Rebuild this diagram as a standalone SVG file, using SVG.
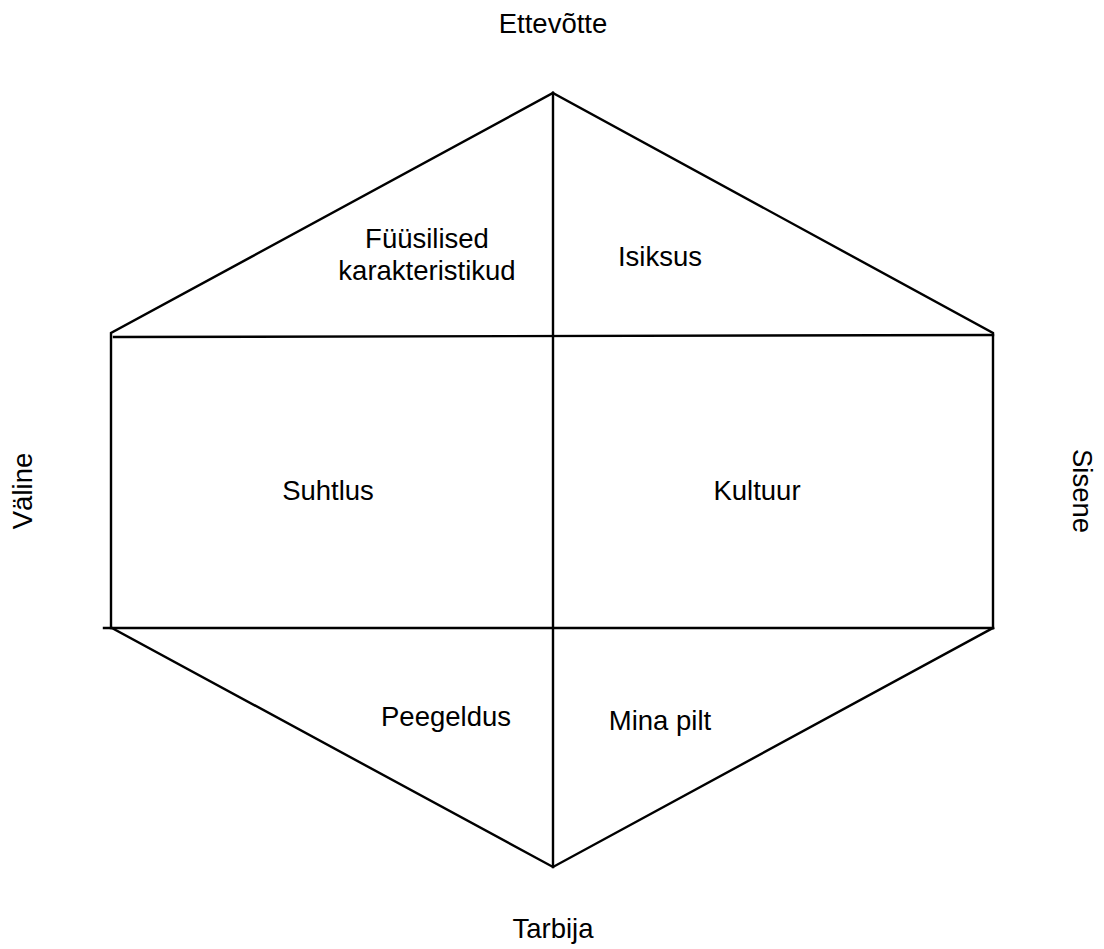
<svg xmlns="http://www.w3.org/2000/svg" width="1104" height="949" viewBox="0 0 1104 949">
<style>
.ln{stroke:#000;stroke-width:2.4;fill:none;stroke-linecap:square}
.t{font-family:"Liberation Sans",Arial,sans-serif;font-size:27.5px;fill:#000;text-anchor:middle}
</style>
<rect width="1104" height="949" fill="#fff"/>
<g id="connectors">
<path class="ln" d="M553,93 L111,333 L111,628"/>
<path class="ln" d="M553,93 L993,333 L993,628"/>
<path class="ln" d="M553,93 L553,867"/>
<path class="ln" d="M114,337 L993,335"/>
<path class="ln" d="M104,628 L993,628"/>
<path class="ln" d="M112,628 L553,867 L993,628"/>
</g>
<g id="ettevotte"><text class="t" x="553" y="33">Ettevõtte</text></g>
<g id="tarbija"><text class="t" x="553" y="938">Tarbija</text></g>
<g id="valine"><text class="t" transform="translate(32,491) rotate(-90)">Väline</text></g>
<g id="sisene"><text class="t" transform="translate(1073,491) rotate(90)">Sisene</text></g>
<g id="fuusilised"><text class="t" x="427" y="248">Füüsilised</text><text class="t" x="427" y="280">karakteristikud</text></g>
<g id="isiksus"><text class="t" x="660" y="266">Isiksus</text></g>
<g id="suhtlus"><text class="t" x="328" y="500">Suhtlus</text></g>
<g id="kultuur"><text class="t" x="757" y="500">Kultuur</text></g>
<g id="peegeldus"><text class="t" x="446" y="726">Peegeldus</text></g>
<g id="minapilt"><text class="t" x="660" y="730">Mina pilt</text></g>
</svg>
